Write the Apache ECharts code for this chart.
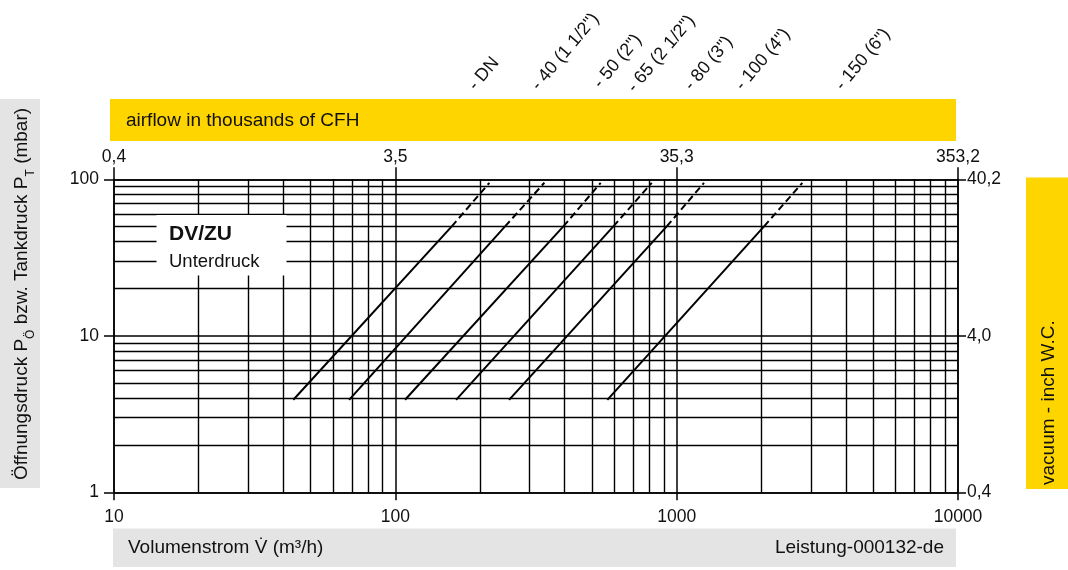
<!DOCTYPE html>
<html><head><meta charset="utf-8">
<script src="https://cdn.jsdelivr.net/npm/echarts@6/dist/echarts.min.js"></script>
<style>html,body{margin:0;padding:0;background:#fff}#c{width:1068px;height:570px}</style>
</head><body><div id="c"></div>
<script>
// ---- data ----
const flowTicks = [10, 100, 1000, 10000];
const cfhLabels = ['0,4', '3,5', '35,3', '353,2'];
const pressureTicks = [1, 10, 100];
const inchLabels = ['0,4', '4,0', '40,2'];
const xMinorGrid = [20, 30, 40, 50, 60, 70, 80, 90, 200, 300, 400, 500, 600, 700, 800, 900, 2000, 3000, 4000, 5000, 6000, 7000, 8000, 9000];
const yMinorGrid = [2, 3, 4, 5, 6, 7, 8, 9, 20, 30, 40, 50, 60, 70, 80, 90];
const dnLabels = ['- DN', '- 40 (1 1/2")', '- 50 (2")', '- 65 (2 1/2")', '- 80 (3")', '- 100 (4")', '- 150 (6")'];
const curveStartFlow = [43.4, 68.5, 108.3, 164.4, 253.7, 567];
const curveSolidEndFlow = [158.7, 245.5, 395.6, 595.7, 922, 2045];
const curveDashEndFlow = [215.9, 338.6, 537, 815.6, 1251, 2797];
const curveStartPressure = [3.9, 3.9, 3.9, 3.9, 3.9, 3.9];
const curveSolidEndPressure = [50, 50, 50, 50, 50, 50];
const curveDashEndPressure = [95, 95, 95, 95, 95, 95];

// ---- chart ----
const FONT = 'Liberation Sans, Arial, Helvetica, sans-serif';
const INK = '#111';
const chart = echarts.init(document.getElementById('c'), null, {renderer: 'canvas'});

const gridLine = {color: '#000', width: 1.5};
const series = [];
series.push({
  type: 'line', data: [], z: 1, silent: true,
  markLine: {
    silent: true, symbol: ['none', 'none'], animation: false,
    label: {show: false},
    lineStyle: {color: '#000', width: 1.4, type: 'solid'},
    emphasis: {disabled: true},
    data: xMinorGrid.map(v => ({xAxis: v})).concat(yMinorGrid.map(v => ({yAxis: v})))
  }
});
for (let i = 0; i < curveStartFlow.length; i++) {
  series.push({
    type: 'line', z: 5, silent: true, showSymbol: false, symbol: 'none',
    lineStyle: {color: '#000', width: 2},
    data: [[curveStartFlow[i], curveStartPressure[i]], [curveSolidEndFlow[i], curveSolidEndPressure[i]]]
  });
  series.push({
    type: 'line', z: 5, silent: true, showSymbol: false, symbol: 'none',
    lineStyle: {color: '#000', width: 2, type: [7, 4]},
    data: [[curveSolidEndFlow[i], curveSolidEndPressure[i]], [curveDashEndFlow[i], curveDashEndPressure[i]]]
  });
}

const dnPos = [[472, 88], [535, 88], [597, 86], [631, 90], [688, 88], [739, 88], [839, 88]];
const rot = 50 * Math.PI / 180;
const graphics = [
  {type: 'rect', z: 100, shape: {x: 110, y: 99, width: 846, height: 42}, style: {fill: '#FFD500'}},
  {type: 'text', z: 101, x: 126, y: 121, style: {text: 'airflow in thousands of CFH', font: '19px ' + FONT, fill: INK, align: 'left', verticalAlign: 'middle'}},
  {type: 'rect', z: 100, shape: {x: 1026, y: 177.5, width: 42, height: 311.5}, style: {fill: '#FFD500'}},
  {type: 'text', z: 101, x: 1049, y: 485, rotation: Math.PI / 2, style: {text: 'vacuum - inch W.C.', font: '19px ' + FONT, fill: INK, align: 'left', verticalAlign: 'middle'}},
  {type: 'rect', z: 100, shape: {x: 0, y: 99, width: 40, height: 389}, style: {fill: '#E4E4E4'}},
  {type: 'text', z: 101, x: 22, y: 294, rotation: Math.PI / 2, style: {
    text: 'Öffnungsdruck P{s|Ö} bzw. Tankdruck P{s|T} (mbar)',
    font: '19px ' + FONT, fill: INK, align: 'center', verticalAlign: 'middle',
    rich: {s: {fontSize: 12, fontFamily: FONT, fill: INK, verticalAlign: 'bottom', lineHeight: 30}}
  }},
  {type: 'rect', z: 100, shape: {x: 113, y: 528.5, width: 843, height: 38.5}, style: {fill: '#E4E4E4'}},
  {type: 'text', z: 101, x: 128, y: 548, style: {text: 'Volumenstrom V\u0307 (m³/h)', font: '19px ' + FONT, fill: INK, align: 'left', verticalAlign: 'middle'}},
  {type: 'text', z: 101, x: 944, y: 548, style: {text: 'Leistung-000132-de', font: '19px ' + FONT, fill: INK, align: 'right', verticalAlign: 'middle'}},
  {type: 'rect', z: 100, shape: {x: 156.5, y: 215, width: 130, height: 60.5}, style: {fill: '#fff'}},
  {type: 'text', z: 101, x: 169, y: 234, style: {text: 'DV/ZU', font: 'bold 21px ' + FONT, fill: INK, align: 'left', verticalAlign: 'middle'}},
  {type: 'text', z: 101, x: 169, y: 262, style: {text: 'Unterdruck', font: '18.5px ' + FONT, fill: INK, align: 'left', verticalAlign: 'middle'}}
];
dnLabels.forEach((t, i) => {
  graphics.push({type: 'text', z: 101, x: dnPos[i][0], y: dnPos[i][1], rotation: rot,
    style: {text: t, font: '18px ' + FONT, fill: INK, align: 'left', verticalAlign: 'middle'}});
});

const axisLbl = {fontSize: 17.5, fontFamily: FONT, color: INK};
chart.setOption({
  animation: false,
  backgroundColor: '#fff',
  grid: {left: 114, right: 110, top: 179.3, bottom: 77.7, containLabel: false},
  xAxis: [
    {type: 'log', logBase: 10, min: 10, max: 10000, position: 'bottom',
     axisLine: {show: true, lineStyle: gridLine},
     axisTick: {show: true, length: 8, lineStyle: gridLine},
     splitLine: {show: true, lineStyle: gridLine},
     minorTick: {show: false}, minorSplitLine: {show: false},
     axisLabel: Object.assign({margin: 16, formatter: v => String(flowTicks[Math.round(Math.log10(v)) - 1])}, axisLbl)},
    {type: 'log', logBase: 10, min: 10, max: 10000, position: 'top',
     axisLine: {show: true, lineStyle: gridLine},
     axisTick: {show: true, length: 12, lineStyle: gridLine},
     splitLine: {show: false},
     axisLabel: Object.assign({margin: 13, formatter: v => cfhLabels[Math.round(Math.log10(v)) - 1]}, axisLbl)}
  ],
  yAxis: [
    {type: 'log', logBase: 10, min: 1, max: 100, position: 'left',
     axisLine: {show: true, lineStyle: gridLine},
     axisTick: {show: true, length: 10, lineStyle: gridLine},
     splitLine: {show: true, lineStyle: gridLine},
     axisLabel: Object.assign({margin: 15, formatter: v => String(pressureTicks[Math.round(Math.log10(v))])}, axisLbl)},
    {type: 'log', logBase: 10, min: 1, max: 100, position: 'right',
     axisLine: {show: true, lineStyle: gridLine},
     axisTick: {show: true, length: 8, lineStyle: gridLine},
     splitLine: {show: false},
     axisLabel: Object.assign({margin: 9, formatter: v => inchLabels[Math.round(Math.log10(v))]}, axisLbl)}
  ],
  series: series,
  graphic: {elements: graphics}
});
</script></body></html>
